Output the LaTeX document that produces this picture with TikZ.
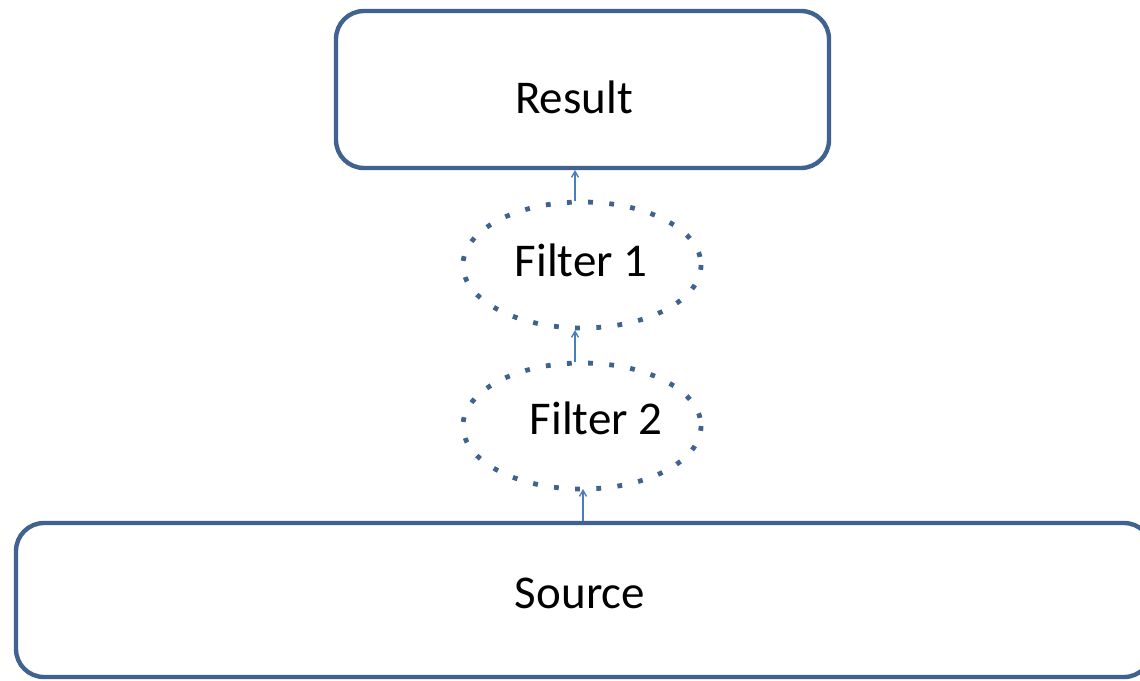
\documentclass[tikz,border=0pt]{standalone}
\usepackage{fontspec}
\setmainfont{Carlito}
\usetikzlibrary{arrows.meta}
\definecolor{boxblue}{RGB}{63,98,143}
\definecolor{arrowblue}{RGB}{74,126,187}
\begin{document}
\begin{tikzpicture}[x=1pt,y=-1pt,
  stage/.style={draw=boxblue,line width=4.4pt,rounded corners=28pt},
  filterell/.style={draw=boxblue,line width=4.8pt,dash pattern=on 4.8pt off 16.4pt},
  link/.style={draw=arrowblue,line width=1.6pt,-{Straight Barb[length=6pt,width=7pt,line width=1.4pt]}},
  lbl/.style={font=\fontsize{47}{50}\selectfont}]
\useasboundingbox (0,0) rectangle (1140,680);
% stages
\draw[stage] (336,11) rectangle (829,168);
\draw[stage] (16,523) rectangle (1152,677);
\node[lbl] (result) at (574,97) {Result};
\node[lbl] (source) at (580,593) {Source};
% filters
\draw[filterell] (582,265) ellipse [x radius=119, y radius=63];
\draw[filterell] (582,426) ellipse [x radius=119, y radius=63];
\node[lbl] (f1) at (581,260) {Filter 1};
\node[lbl] (f2) at (596,418) {Filter 2};
% anchor points on the shapes
\coordinate (resB) at (575,170);
\coordinate (f1T) at (575,201);
\coordinate (f1B) at (575,330);
\coordinate (f2T) at (575,362);
\coordinate (f2B) at (583,489);
\coordinate (srcT) at (583,521);
% links
\draw[link] (f1T) -- (resB);
\draw[link] (f2T) -- (f1B);
\draw[link] (srcT) -- (f2B);
\end{tikzpicture}
\end{document}
